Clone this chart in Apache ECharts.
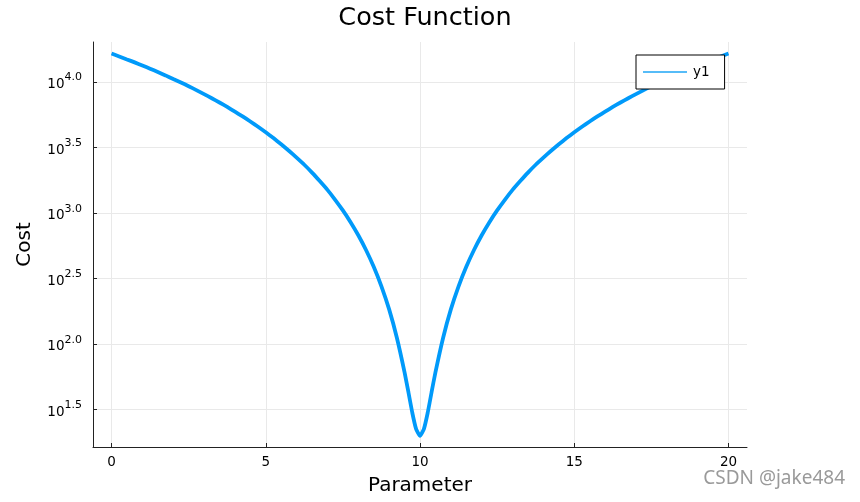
<!DOCTYPE html>
<html lang="en">
<head>
    <meta charset="UTF-8">
    <title>Cost Function</title>
    <script src="https://cdn.jsdelivr.net/npm/echarts@6/dist/echarts.min.js"></script>
    <style>
        html, body { margin: 0; padding: 0; background: #fff; }
        #main { width: 860px; height: 502px; }
    </style>
</head>
<body>
    <div id="main"></div>
    <script>
        // parameter values along the curve
        var params = [0, 0.25, 0.5, 0.75, 1, 1.25, 1.5, 1.75, 2, 2.25, 2.5, 2.75, 3, 3.25, 3.5, 3.75,
            4, 4.25, 4.5, 4.75, 5, 5.25, 5.5, 5.75, 6, 6.25, 6.5, 6.75, 7, 7.25, 7.5, 7.75,
            8, 8.25, 8.5, 8.75, 9, 9.25, 9.5, 9.625, 9.75, 9.875, 10,
            10.125, 10.25, 10.375, 10.5, 10.75, 11, 11.25, 11.5, 11.75,
            12, 12.25, 12.5, 12.75, 13, 13.25, 13.5, 13.75, 14, 14.25, 14.5, 14.75,
            15, 15.25, 15.5, 15.75, 16, 16.25, 16.5, 16.75, 17, 17.25, 17.5, 17.75,
            18, 18.25, 18.5, 18.75, 19, 19.25, 19.5, 19.75, 20];
        // cost
        var cost = [16400, 15600, 14800, 14050, 13300, 12580, 11870, 11180, 10500, 9870, 9250, 8640, 8050, 7490, 6950, 6430,
            5920, 5440, 4980, 4540, 4120, 3720, 3340, 2980, 2640, 2330, 2030, 1750, 1500, 1260, 1045, 850,
            676, 522, 389, 276, 184, 112, 61, 43, 30, 22.5, 20,
            22.5, 30, 43, 61, 112, 184, 276, 389, 522,
            676, 850, 1045, 1260, 1500, 1750, 2030, 2330, 2640, 2980, 3340, 3720,
            4120, 4540, 4980, 5440, 5920, 6430, 6950, 7490, 8050, 8640, 9250, 9870,
            10500, 11180, 11870, 12580, 13300, 14050, 14800, 15600, 16400];
        var seriesName = 'y1';

        var gridGray = '#e9e9e9';
        var font = 'DejaVu Sans';

        var myChart = echarts.init(document.getElementById('main'));

        // y is drawn on a linear axis of log10(cost), ticks every half decade
        var points = params.map(function (p, i) { return [p, Math.log10(cost[i])]; });

        var option = {
            animation: false,
            textStyle: { fontFamily: font },
            title: {
                text: 'Cost Function',
                left: 420,
                top: 0,
                textAlign: 'center',
                textStyle: { fontFamily: font, fontSize: 25.5, fontWeight: 'normal', color: '#000' }
            },
            legend: {
                data: [seriesName],
                left: 636,
                top: 55,
                orient: 'vertical',
                icon: 'rect',
                itemWidth: 44,
                itemHeight: 2,
                padding: [10, 15, 10, 7],
                backgroundColor: '#fff',
                borderColor: '#000',
                borderWidth: 1,
                borderRadius: 0,
                textStyle: { fontFamily: font, fontSize: 13.5, color: '#000', padding: [2, 0, 2, 1] }
            },
            grid: { left: 93, right: 113, top: 42, bottom: 55 },
            xAxis: {
                type: 'value',
                min: -0.6,
                max: 20.6,
                name: 'Parameter',
                nameLocation: 'middle',
                nameGap: 29,
                nameTextStyle: { fontFamily: font, fontSize: 20, color: '#000' },
                axisLine: { show: true, onZero: false, lineStyle: { color: '#222', width: 1 } },
                axisTick: { show: true, inside: true, length: 4, lineStyle: { color: '#222' } },
                axisLabel: { showMinLabel: false, showMaxLabel: false, margin: 8, fontSize: 13.5, color: '#000', fontFamily: font },
                splitLine: { show: true, lineStyle: { color: ['transparent', gridGray, gridGray, gridGray, gridGray, gridGray, 'transparent'], width: 1 } }
            },
            yAxis: {
                type: 'value',
                min: 1.216,
                max: 4.303,
                splitNumber: 5,
                name: 'Cost',
                nameLocation: 'middle',
                nameGap: 58,
                nameTextStyle: { fontFamily: font, fontSize: 20, color: '#000' },
                axisLine: { show: true, onZero: false, lineStyle: { color: '#222', width: 1 } },
                axisTick: { show: true, inside: true, length: 4, lineStyle: { color: '#222' } },
                axisLabel: {
                    showMinLabel: false,
                    showMaxLabel: false,
                    margin: 11,
                    formatter: function (v) { return '{b|10}{s|' + v.toFixed(1) + '}'; },
                    rich: {
                        b: { fontFamily: font, fontSize: 13.5, color: '#000', lineHeight: 19.5, verticalAlign: 'bottom' },
                        s: { fontFamily: font, fontSize: 11, color: '#000', lineHeight: 19.5, verticalAlign: 'top' }
                    }
                },
                splitLine: { show: true, lineStyle: { color: ['transparent', gridGray, gridGray, gridGray, gridGray, gridGray, gridGray, 'transparent'], width: 1 } }
            },
            graphic: [{
                type: 'text',
                right: 15,
                top: 469,
                style: { text: 'CSDN @jake484', fontFamily: 'Noto Sans', fontSize: 19, fill: '#9a9a9a' }
            }],
            series: [{
                name: seriesName,
                type: 'line',
                data: points,
                showSymbol: false,
                symbol: 'none',
                smooth: 0.15,
                lineStyle: { color: '#009afa', width: 3.8 },
                itemStyle: { color: '#56bcf8' }
            }]
        };

        myChart.setOption(option);
    </script>
</body>
</html>
